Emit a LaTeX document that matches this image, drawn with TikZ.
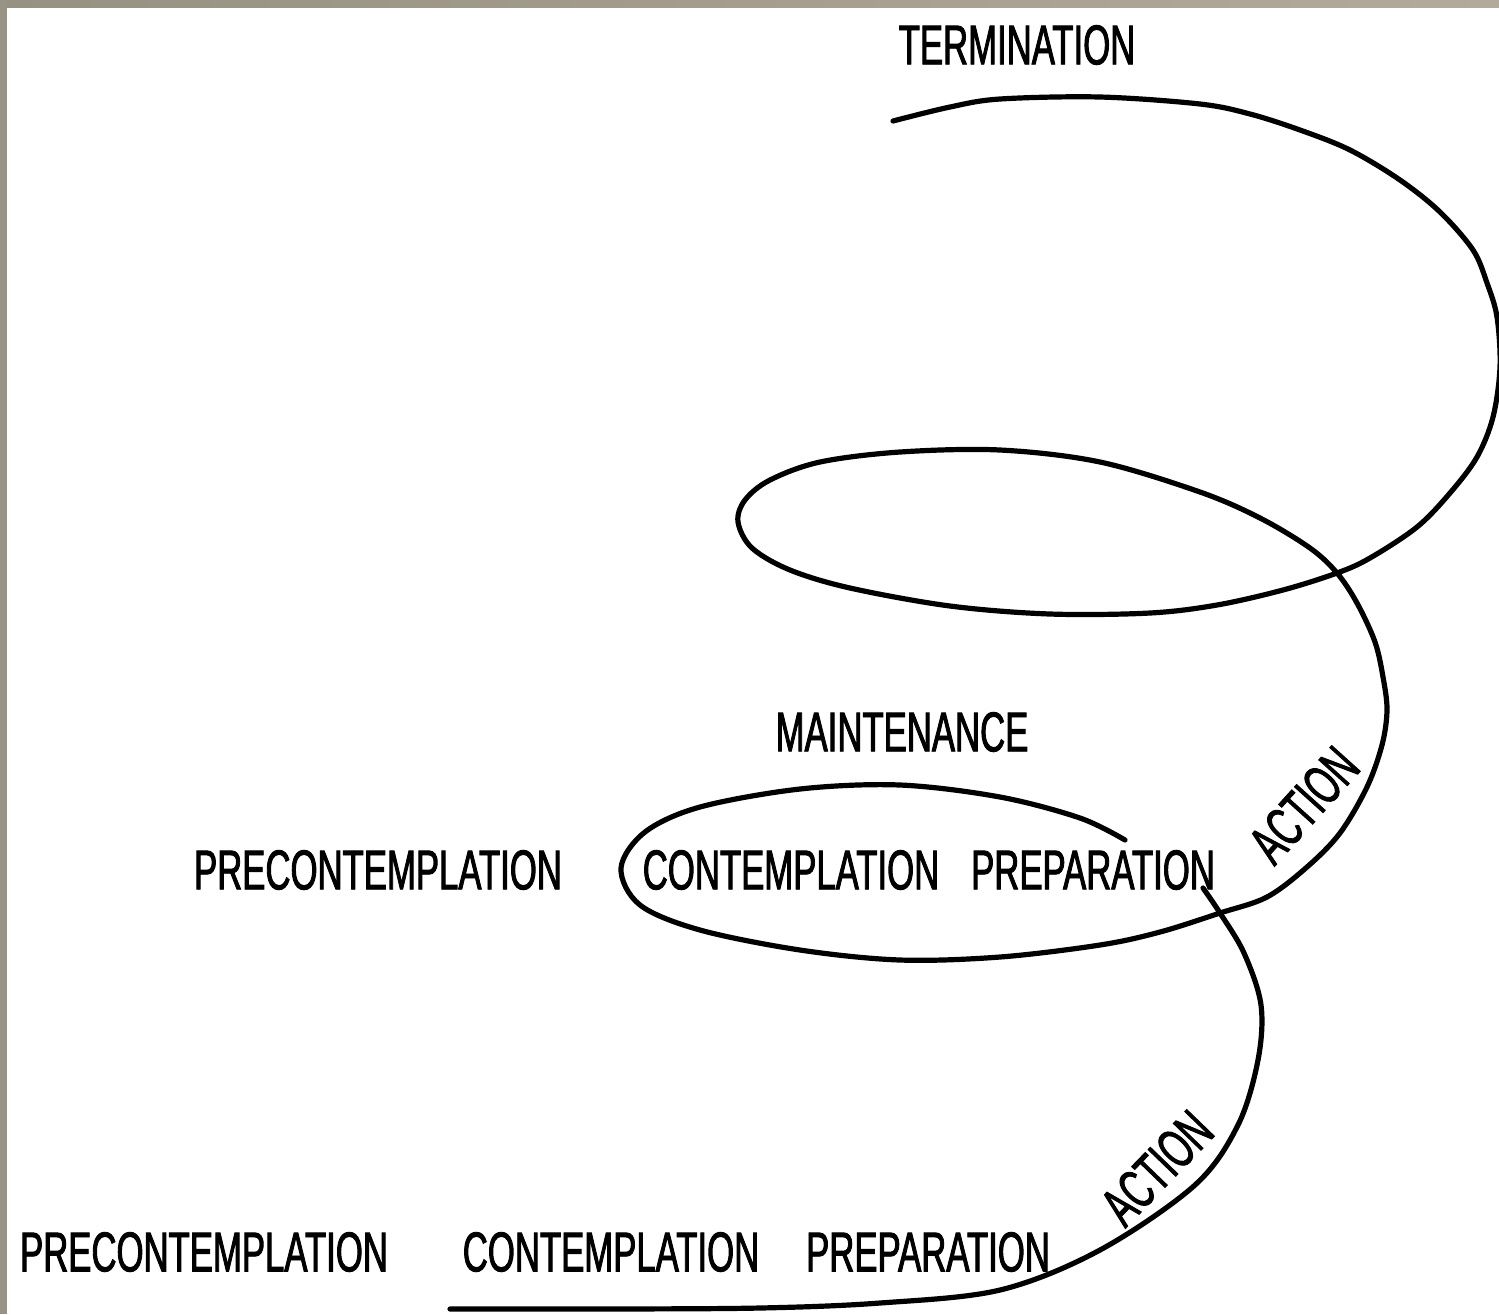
\documentclass[tikz,border=0pt]{standalone}
\usepackage{fontspec}
\newfontfamily\labelfont[FakeStretch=0.62, FakeBold=1.6]{Liberation Sans}
\definecolor{framedark}{RGB}{150,145,130}
\definecolor{framelight}{RGB}{180,170,155}
\tikzset{
  stage/.style={inner sep=0pt, font=\labelfont\fontsize{28}{30}\selectfont, text=black},
  spiral/.style={line width=2.6pt, line cap=round, line join=round, black},
}
\begin{document}
\begin{tikzpicture}[x=0.5pt, y=-0.5pt]
\useasboundingbox (0,0) rectangle (1499,1314);
\clip (0,0) rectangle (1499,1314);
\fill[white] (0,0) rectangle (1499,1314);
% frame strips
\fill[left color=framedark, right color=framelight] (0,0) rectangle (1499,7);
\fill[framedark!90!framelight] (0,0) rectangle (7,1314);

% labels
\node[stage] (term)   at (1017,45)   {TERMINATION};
\node[stage] (maint)  at (902,732)   {MAINTENANCE};
\node[stage] (pre2)   at (378,870)   {PRECONTEMPLATION};
\node[stage] (con2)   at (791,870)   {CONTEMPLATION};
\node[stage] (prep2)  at (1093,870)  {PREPARATION};
\node[stage, rotate=48] (act2) at (1304,805) {ACTION};
\node[stage] (pre1)   at (204,1252)  {PRECONTEMPLATION};
\node[stage] (con1)   at (611,1252)  {CONTEMPLATION};
\node[stage] (prep1)  at (928,1252)  {PREPARATION};
\node[stage, rotate=46] (act1) at (1157,1168) {ACTION};

% spiral: lower turn, ends behind the middle PREPARATION
\draw[spiral] plot[smooth, tension=0.55] coordinates {
  (450,1309) (600,1309) (760,1308) (880,1303) (1000,1290) (1100,1250)
  (1195,1185) (1238,1125) (1258,1060) (1261,1005) (1244,953) (1220,913) (1203,888)};

% spiral: middle loop, upper loop and top arc
\draw[spiral] plot[smooth, tension=0.55] coordinates {
  (1125,840) (1080,818) (1000,797) (900,785) (800,789) (700,807) (645,832)
  (621,868) (640,905) (700,930) (800,950) (900,960) (1000,957) (1100,945)
  (1160,932) (1220,913) (1267,897) (1307,867) (1340,833) (1367,787)
  (1382,745) (1387,710) (1383,677) (1375,642) (1357,603) (1337,573)
  (1310,548) (1260,518) (1200,492) (1100,462) (1000,450) (900,452)
  (820,462) (770,480) (745,500) (738,522) (752,548) (790,570) (850,588)
  (950,606) (1050,614) (1150,613) (1217,605) (1283,590) (1337,573)
  (1370,558) (1417,527) (1450,493) (1477,457) (1493,417) (1500,367)
  (1497,317) (1487,283) (1473,250) (1440,212) (1400,180) (1350,150)
  (1300,130) (1250,114) (1200,104) (1100,97) (1000,99) (950,107) (893,121)};
\end{tikzpicture}
\end{document}
